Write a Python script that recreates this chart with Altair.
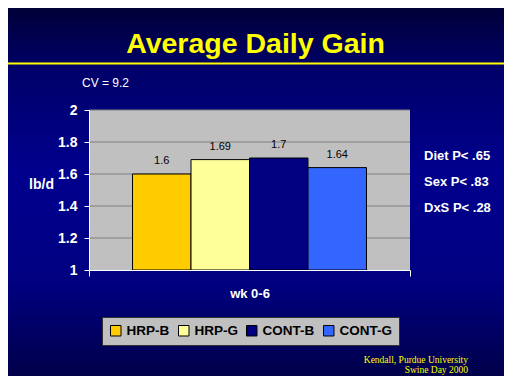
import altair as alt
import pandas as pd

groups = ["HRP-B", "HRP-G", "CONT-B", "CONT-G"]
values = [1.6, 1.69, 1.7, 1.64]
colors = ["#FFCC00", "#FFFF99", "#000080", "#3366FF"]
period = "wk 0-6"
y_ticks = [1.0, 1.2, 1.4, 1.6, 1.8, 2.0]
grid_vals = [1.2, 1.4, 1.6, 1.8, 2.0]
title_text = "Average Daily Gain"
cv_text = "CV = 9.2"
stats = ["Diet P< .65", "Sex  P< .83", "DxS P< .28"]
credit = ["Kendall, Purdue University", "Swine Day 2000"]

W, H = 321, 160
PL, PT, PR, PB = 81, 102, 94, 106

df = pd.DataFrame({"period": [period] * 4, "group": groups, "value": values})
one = pd.DataFrame({"a": [0]})
grid_df = pd.DataFrame({"value": grid_vals})

FONT = "Liberation Sans"

bg = alt.Chart(one).mark_rect(
    fill=alt.Gradient(
        gradient="linear",
        stops=[
            alt.GradientStop(color="#000038", offset=0),
            alt.GradientStop(color="#00006a", offset=0.17),
            alt.GradientStop(color="#00008e", offset=0.45),
            alt.GradientStop(color="#000080", offset=0.75),
            alt.GradientStop(color="#00004a", offset=1),
        ],
        x1=0, x2=0, y1=0, y2=1,
    )
).encode(x=alt.value(-PL), x2=alt.value(W + PR), y=alt.value(-PT), y2=alt.value(H + PB))

plotbg = alt.Chart(one).mark_rect(fill="#C0C0C0").encode(
    x=alt.value(0), x2=alt.value(W), y=alt.value(0), y2=alt.value(H)
)

yscale = alt.Scale(domain=[1, 2], zero=False, nice=False)
yaxis = alt.Axis(
    values=y_ticks, format=".1~f", grid=False, domainColor="white",
    domainWidth=1, tickColor="white", tickSize=5, labelColor="white",
    labelFont=FONT, labelFontWeight="bold", labelFontSize=14,
    labelPadding=7, zindex=1, title="lb/d", titleAngle=0,
    titleColor="white", titleFont=FONT, titleFontWeight="bold",
    titleFontSize=14, titleX=-48, titleY=74, titleAlign="center",
    titleBaseline="middle",
)
yenc = alt.Y("value:Q", scale=yscale, axis=yaxis)

xenc = alt.X(
    "period:N",
    scale=alt.Scale(paddingInner=0, paddingOuter=0),
    axis=alt.Axis(
        title=None, domainColor="white", domainWidth=1, tickBand="extent",
        tickColor="white", tickSize=6, labelColor="white", labelFont=FONT,
        labelFontWeight="bold", labelFontSize=13, labelPadding=11,
        labelAngle=0, zindex=1, grid=False,
    ),
)
xoff = alt.XOffset("group:N", sort=groups,
                   scale=alt.Scale(paddingInner=0, paddingOuter=0.744))

grid = alt.Chart(grid_df).mark_rule(color="#808080", strokeWidth=1).encode(
    y=yenc, x=alt.value(0), x2=alt.value(W),
)

bars = alt.Chart(df).mark_bar(stroke="black", strokeWidth=1, opacity=1).encode(
    x=xenc,
    xOffset=xoff,
    y=yenc,
    y2=alt.datum(1),
    color=alt.Color(
        "group:N", sort=groups,
        scale=alt.Scale(domain=groups, range=colors),
        legend=alt.Legend(
            title=None, orient="none", legendX=13, legendY=207,
            direction="horizontal", fillColor="#C0C0C0", strokeColor="#303030",
            padding=7, symbolType="square", symbolSize=110,
            symbolStrokeColor="black", symbolStrokeWidth=1, symbolOpacity=1,
            labelFont=FONT, labelFontWeight="bold", labelFontSize=13.5,
            labelColor="black", columnPadding=6, labelOffset=4,
        ),
    ),
)

labels = alt.Chart(df).mark_text(
    font=FONT, fontSize=11, color="black", dy=-13, baseline="middle"
).encode(
    x=xenc,
    xOffset=xoff,
    y=yenc,
    text=alt.Text("value:Q", format=".2~f"),
)

layers = [bg, plotbg, grid, bars, labels]

line = alt.Chart(one).mark_rule(color="#FFFF00", strokeWidth=2).encode(
    x=alt.value(-PL), x2=alt.value(W + PR), y=alt.value(-46.5)
)
layers.append(line)

layers.append(alt.Chart(one).mark_text(
    text=title_text, font=FONT, fontWeight="bold", fontSize=28.5,
    color="#FFFF00", align="center", baseline="alphabetic"
).encode(x=alt.value(166.5), y=alt.value(-57)))

layers.append(alt.Chart(one).mark_text(
    text=cv_text, font=FONT, fontSize=12, color="white", align="left",
    baseline="middle"
).encode(x=alt.value(-7), y=alt.value(-27)))

for i, s in enumerate(stats):
    layers.append(alt.Chart(one).mark_text(
        text=s, font=FONT, fontWeight="bold", fontSize=13, color="white",
        align="left", baseline="middle"
    ).encode(x=alt.value(335), y=alt.value(46 + 26 * i)))

for i, s in enumerate(credit):
    layers.append(alt.Chart(one).mark_text(
        text=s, font="Liberation Serif", fontSize=9.5, color="#FFFF00",
        align="right", baseline="middle"
    ).encode(x=alt.value(379), y=alt.value(250 + 10 * i)))

chart = alt.layer(*layers).properties(
    width=W, height=H,
    autosize=alt.AutoSizeParams(type="none"),
    padding={"left": PL, "top": PT, "right": PR, "bottom": PB},
).configure_view(stroke="transparent")

chart.save("out.html", embed_options={"renderer": "svg", "actions": False})
